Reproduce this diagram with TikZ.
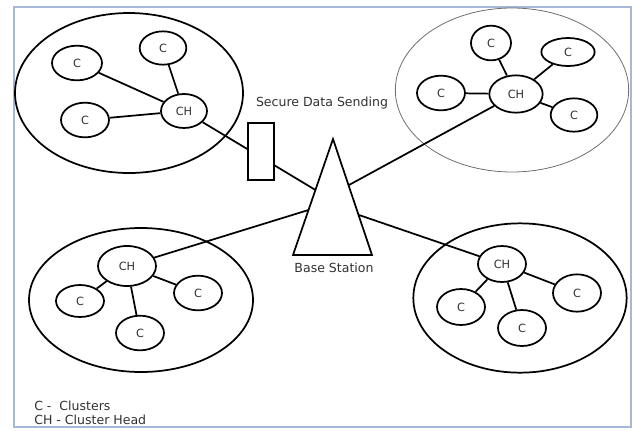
\documentclass[tikz,border=0pt]{standalone}
\usepackage{fontspec}
\setmainfont{DejaVu Sans}
\usepackage{tikz}
\usetikzlibrary{shapes.geometric}
\definecolor{framecol}{RGB}{165,185,215}
\definecolor{txt}{RGB}{50,50,50}
\definecolor{thingray}{RGB}{110,110,110}
\tikzstyle{cluster} = [ellipse, draw = black, line width = 1.3pt, inner sep = 0pt]
\tikzstyle{member} = [ellipse, draw = black, line width = 1.3pt, inner sep = 0pt, minimum width = 36pt, minimum height = 26pt, fill = white, text = txt, font = \fontsize{8.5}{9}\selectfont]
\tikzstyle{head} = [member, minimum width = 36pt, minimum height = 27pt]
\tikzstyle{link} = [line width = 1.3pt]
\tikzstyle{notetext} = [text = txt, inner sep = 0pt, font = \fontsize{9.4}{11}\selectfont]

\begin{document}
\begin{tikzpicture}[x = 0.75pt, y = -0.75pt]

\useasboundingbox (0,0) rectangle (633,430);
\draw [framecol, line width = 1.5pt] (14,7) rectangle (631,427);

\node(clusterTL) [cluster, minimum width = 171pt, minimum height = 120pt] at (129,93) {};
\node(clusterTR) [cluster, draw = thingray, line width = 0.6pt, minimum width = 175pt, minimum height = 123pt] at (512,90) {};
\node(clusterBL) [cluster, minimum width = 168pt, minimum height = 108pt] at (141,300) {};
\node(clusterBR) [cluster, minimum width = 160pt, minimum height = 112pt] at (520,298) {};

\coordinate(apex) at (333,139);
\coordinate(baseL) at (293,255);
\coordinate(baseR) at (372,255);
\coordinate(bsTL) at (315.5,190);
\coordinate(bsTR) at (349,185);
\coordinate(bsBL) at (308.5,210);
\coordinate(bsBR) at (359,215);
\draw [link] (apex) -- (baseL) -- (baseR) -- cycle;
\node(bsText) [notetext] at (334,268) {Base Station};

\node(chTL) [head, minimum width = 34.5pt, minimum height = 25.5pt] at (184,111) {CH};
\node(cTL1) [member, minimum width = 37.5pt] at (77,63) {C};
\node(cTL2) [member, minimum width = 35pt, minimum height = 25pt] at (163,48) {C};
\node(cTL3) [member] at (85,120) {C};

\node(chTR) [head, minimum width = 40pt, minimum height = 28pt] at (516,94) {CH};
\node(cTR1) [member, minimum width = 30pt] at (491,43) {C};
\node(cTR2) [member, minimum width = 40pt, minimum height = 21pt] at (568,52) {C};
\node(cTR3) [member] at (441,93) {C};
\node(cTR4) [member, minimum width = 35pt, minimum height = 25pt] at (574,115) {C};

\node(chBL) [head, minimum width = 43.5pt, minimum height = 30pt] at (127,266) {CH};
\node(cBL1) [member, minimum height = 24pt] at (80,301) {C};
\node(cBL2) [member] at (140,333) {C};
\node(cBL3) [member] at (198,293) {C};

\node(chBR) [head] at (502,264) {CH};
\node(cBR1) [member, minimum height = 27pt] at (461,307) {C};
\node(cBR2) [member, minimum height = 27pt] at (522,328) {C};
\node(cBR3) [member, minimum height = 28pt] at (577,293) {C};

\draw [link] (cTL1) -- (chTL);
\draw [link] (cTL2) -- (chTL);
\draw [link] (cTL3) -- (chTL);
\draw [link] (cTR1) -- (chTR);
\draw [link] (cTR2) -- (chTR);
\draw [link] (cTR3) -- (chTR);
\draw [link] (cTR4) -- (chTR);
\draw [link] (cBL1) -- (chBL);
\draw [link] (cBL2) -- (chBL);
\draw [link] (cBL3) -- (chBL);
\draw [link] (cBR1) -- (chBR);
\draw [link] (cBR2) -- (chBR);
\draw [link] (cBR3) -- (chBR);

\draw [link] (chTL) -- (bsTL);
\draw [link] (chTR) -- (bsTR);
\draw [link] (chBL) -- (bsBL);
\draw [link] (chBR) -- (bsBR);

\node(secure) [rectangle, draw = black, fill = white, line width = 1.3pt, minimum width = 19.5pt, minimum height = 43pt] at (261,151.5) {};
\node(secureText) [notetext] at (322,103) {Secure Data Sending};

\node(legendC) [notetext, anchor = west] at (34,406) {C -\ \ Clusters};
\node(legendCH) [notetext, anchor = west] at (34,420) {CH - Cluster Head};

\end{tikzpicture}
\end{document}
